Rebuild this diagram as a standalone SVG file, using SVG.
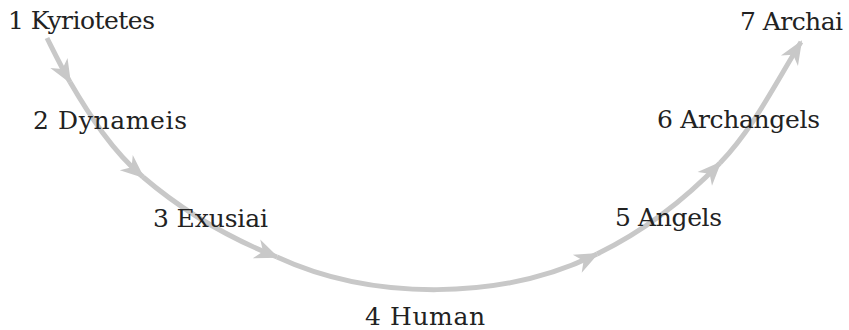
<svg xmlns="http://www.w3.org/2000/svg" width="849" height="330" viewBox="0 0 849 330">
  <style>
    .label { font-family: "DejaVu Serif", "Liberation Serif", serif; font-size: 25px; fill: #222; }
    .arc { fill: none; stroke: #c8c8c8; stroke-width: 5; marker-end: url(#head); }
  </style>
  <defs>
    <!-- swept-back arrowhead, tip sits on the end of each arc segment -->
    <marker id="head" markerUnits="userSpaceOnUse" markerWidth="30" markerHeight="30" viewBox="-26 -13 30 26" refX="0" refY="0" orient="auto" overflow="visible">
      <path d="M-22,-10 L2,0 L-22,10 L-15,0 z" fill="#c8c8c8"/>
    </marker>
  </defs>
  <g id="connectors">
    <path class="arc" d="M47,38 C54.4,52.7 61.7,67.8 70,82"/>
    <path class="arc" d="M70,82 C90,116.3 112.7,151.1 143,177"/>
    <path class="arc" d="M143,177 C182.5,210.8 228.6,237.8 277,257"/>
    <path class="arc" d="M277,257 C372,301 502,301 597,254"/>
    <path class="arc" d="M597,254 C642.9,231.6 684.8,199.7 720,163"/>
    <path class="arc" d="M720,163 C753.4,128.2 775.3,83.6 801,42"/>
  </g>
  <g id="n1"><text class="label" x="8" y="29" textLength="147" lengthAdjust="spacing">1 Kyriotetes</text></g>
  <g id="n2"><text class="label" x="33" y="129" textLength="154" lengthAdjust="spacing">2 Dynameis</text></g>
  <g id="n3"><text class="label" x="153" y="227" textLength="115" lengthAdjust="spacing">3 Exusiai</text></g>
  <g id="n4"><text class="label" x="365" y="325" textLength="120" lengthAdjust="spacing">4 Human</text></g>
  <g id="n5"><text class="label" x="615" y="226" textLength="107" lengthAdjust="spacing">5 Angels</text></g>
  <g id="n6"><text class="label" x="657" y="128" textLength="163" lengthAdjust="spacing">6 Archangels</text></g>
  <g id="n7"><text class="label" x="740" y="30" textLength="103" lengthAdjust="spacing">7 Archai</text></g>
</svg>
